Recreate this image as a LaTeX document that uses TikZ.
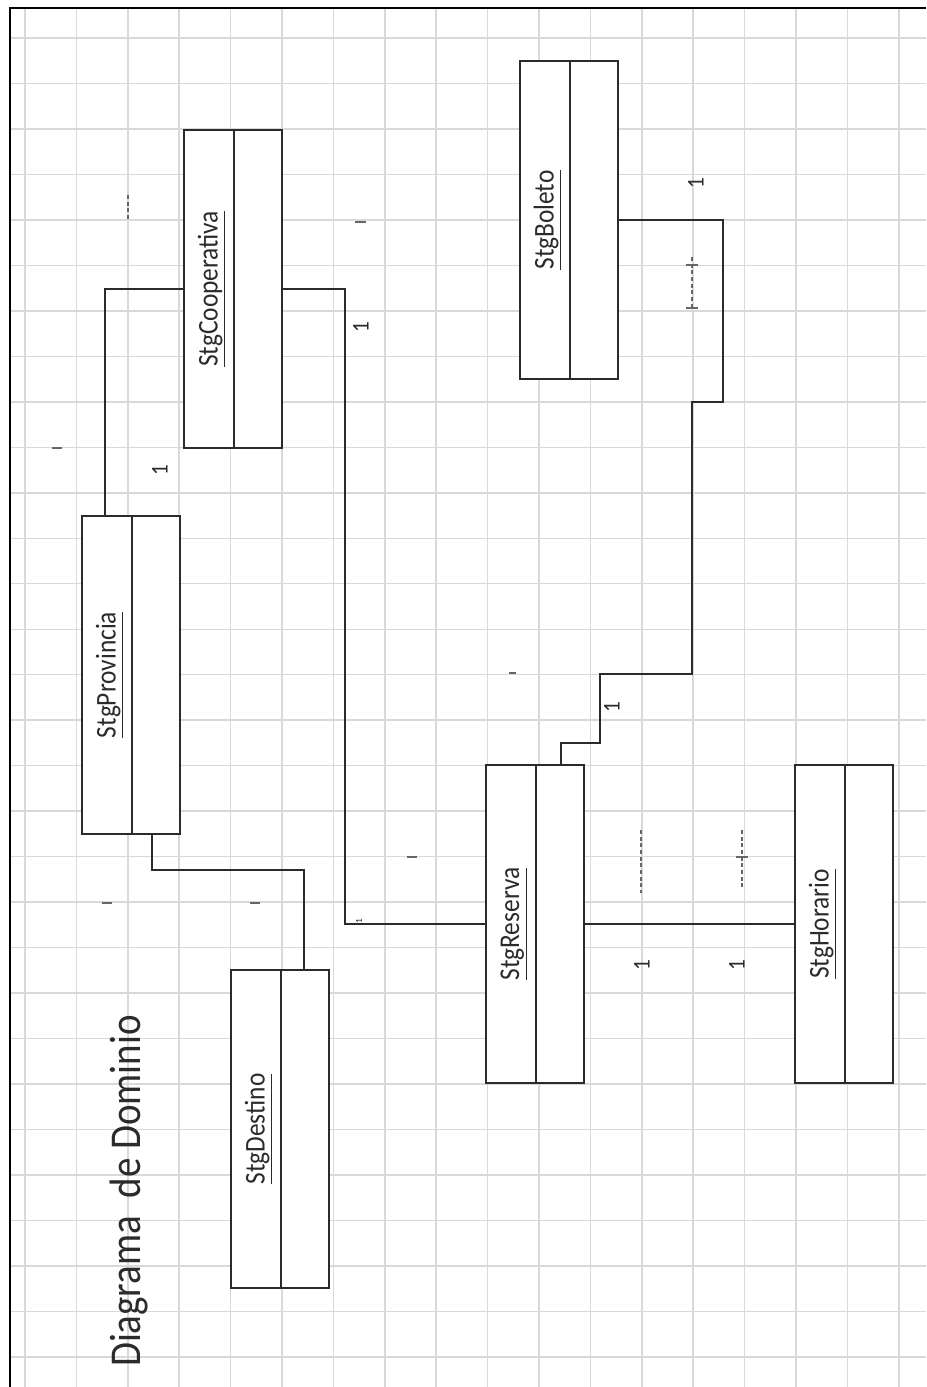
\documentclass[tikz,border=0pt]{standalone}
\usepackage{fontspec}
\setmainfont{Carlito}
\usepackage{graphicx}
\usepackage{xcolor}
\usepackage{tikz}
\usetikzlibrary{positioning, calc}
\definecolor{tinta}{HTML}{2B2B2B}
\newcommand{\squash}[1]{\scalebox{0.885}[1]{#1}}
\newcommand{\stgClase}[4]{%
	\node[clase] (#1) at ({#2+49},{#3+159}) {};
	\draw[linea] ($(#1.north west)+(51,0)$) -- ($(#1.south west)+(51,0)$);
	\node[nombre] (#1-t) at ({#2+27.5},{#3+159}) {\squash{\underline{#4}}};}
\tikzset{
	rejilla/.style={black!15, line width=1.1pt},
	marco/.style={black, line width=0.9pt},
	linea/.style={tinta, line width=1.5pt},
	clase/.style={draw=tinta, line width=1.5pt, fill=white, inner sep=0pt,
		minimum width=73.5pt, minimum height=238.5pt},
	nombre/.style={rotate=90, text=tinta, inner sep=0pt, font=\fontsize{21.5}{24}\selectfont},
	mult/.style={rotate=90, text=tinta, inner sep=0pt, font=\fontsize{18}{20}\selectfont},
	tenue/.style={black!60, line width=0.8pt},
	tenuedash/.style={tenue, dash pattern=on 3pt off 2pt}
}
\begin{document}
\begin{tikzpicture}[x=0.75pt, y=-0.75pt]
	\useasboundingbox (0,0) rectangle (926,1387);
	\fill[white] (0,0) rectangle (926,1387);
	\foreach \i in {0,...,17}
		\draw[rejilla] ({25+51.4*\i},8) -- ({25+51.4*\i},1387);
	\foreach \j in {0,...,29}
		\draw[rejilla] (10,{38+45.48*\j}) -- (926,{38+45.48*\j});
	\draw[marco] (926,8) -- (10,8) -- (10,1387);
	\node[rotate=90, text=tinta, inner sep=0pt, font=\fontsize{33}{36}\selectfont] (titulo) at (129,1191) {\squash{Diagrama\ \ de Dominio}};
	\stgClase{coop}{184}{130}{StgCooperativa}
	\stgClase{boleto}{520}{61}{StgBoleto}
	\stgClase{prov}{82}{516}{StgProvincia}
	\stgClase{reserva}{486}{765}{StgReserva}
	\stgClase{horario}{795}{765}{StgHorario}
	\stgClase{destino}{231}{970}{StgDestino}
	\draw[linea] (coop.west) -| ($(prov.north)+(-26,0)$);
	\draw[linea] (coop.east) -- ++(62,0) |- (reserva.west);
	\draw[linea] ($(prov.south)+(21,0)$) -- ++(0,35) -| ($(destino.north)+(24,0)$);
	\draw[linea] (boleto.east) -| (723,402) -| (692,674) -| (600,743) -| ($(reserva.north)+(26,0)$);
	\draw[linea] (reserva.east) -- (horario.west);
	\node[mult] (m1) at (160,470) {\squash{1}};
	\node[mult] (m2) at (361,327) {\squash{1}};
	\node[mult] (m3) at (696,183) {\squash{1}};
	\node[mult] (m4) at (612,707) {\squash{1}};
	\node[mult] (m5) at (642,965) {\squash{1}};
	\node[mult] (m6) at (737,965) {\squash{1}};
	\node[mult, font=\fontsize{7}{8}\selectfont] (m7) at (359,921) {1};
	\draw[tenuedash] (128,195) -- (128,220);
	\draw[tenue] (355,222) -- (366,222);
	\draw[tenue] (52,448) -- (62,448);
	\draw[tenue] (102,903) -- (112,903);
	\draw[tenue] (250,903) -- (260,903);
	\draw[tenue] (407,857) -- (417,857);
	\draw[tenue] (509,673) -- (516,673);
	\draw[tenuedash] (641,830) -- (641,893);
	\draw[tenuedash] (742,830) -- (742,888);
	\draw[tenue] (736,857) -- (748,857);
	\draw[tenuedash] (692,257) -- (692,308);
	\draw[tenue] (686,265) -- (698,265) (686,308) -- (698,308);
\end{tikzpicture}
\end{document}
